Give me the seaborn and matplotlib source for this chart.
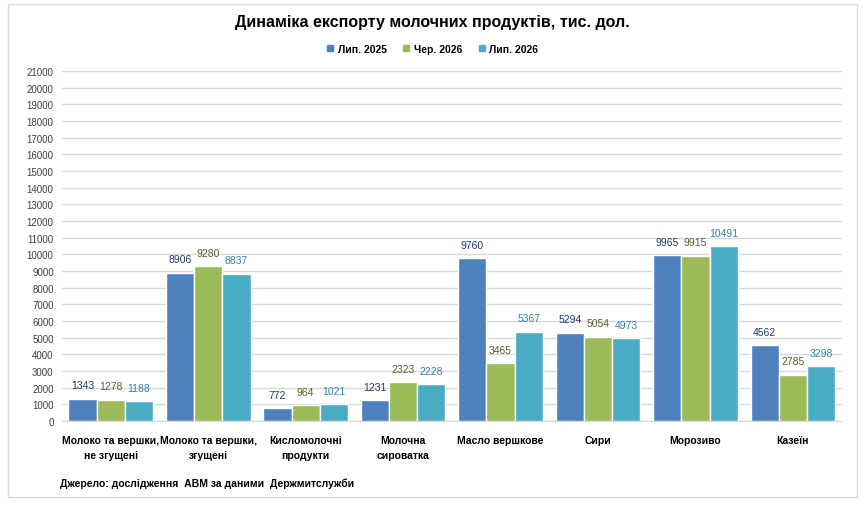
import pandas as pd
import matplotlib.pyplot as plt
import seaborn as sns
from matplotlib.patches import Rectangle

categories = ['Молоко та вершки,\nне згущені', 'Молоко та вершки,\nзгущені', 'Кисломолочні\nпродукти',
              'Молочна\nсироватка', 'Масло вершкове', 'Сири', 'Морозиво', 'Казеїн']
series = ['Лип. 2025', 'Чер. 2026', 'Лип. 2026']
jul_2025 = [1343, 8906, 772, 1231, 9760, 5294, 9965, 4562]
jun_2026 = [1278, 9280, 964, 2323, 3465, 5054, 9915, 2785]
jul_2026 = [1188, 8837, 1021, 2228, 5367, 4973, 10491, 3298]
y_ticks = list(range(0, 22000, 1000))

colors = ['#4F81BD', '#9BBB59', '#4BACC6']
label_colors = ['#1F3A6E', '#4F6228', '#31859C']

sns.set_style('white')
plt.rcParams['font.family'] = ['Liberation Sans', 'DejaVu Sans']
plt.rcParams['text.color'] = 'black'

df = pd.DataFrame({
    'cat': categories * 3,
    'period': [s for s in series for _ in categories],
    'value': jul_2025 + jun_2026 + jul_2026,
})

fig = plt.figure(figsize=(8.65, 5.06), dpi=100)
fig.patches.append(Rectangle((0.009, 0.016), 0.982, 0.974, transform=fig.transFigure,
                             fill=False, edgecolor='#D9D9D9', linewidth=1))
ax = fig.add_axes([0.0717, 0.166, 0.9013, 0.692])

sns.barplot(data=df, x='cat', y='value', hue='period', palette=colors, saturation=1, width=0.87,
            edgecolor='white', linewidth=1, ax=ax, legend=False, zorder=3)

for cont, lc in zip(ax.containers, label_colors):
    ax.bar_label(cont, fmt='%d', padding=6, fontsize=7.5, color=lc)

ax.set_ylim(0, 21000)
ax.set_xlim(-0.5, 7.5)
ax.set_yticks(y_ticks)
ax.yaxis.grid(True, color='#D9D9D9', linewidth=1, zorder=0)
ax.set_axisbelow(True)
for s in ['top', 'right', 'left']:
    ax.spines[s].set_visible(False)
ax.spines['bottom'].set_color('#D9D9D9')
ax.tick_params(axis='y', length=0, labelsize=7, colors='#404040', pad=6)
ax.tick_params(axis='x', length=0, pad=10)
ax.set_xticks(range(len(categories)))
ax.set_xticklabels(categories, fontsize=7.5, fontweight='bold', color='black', linespacing=1.6)
ax.set_xlabel('')
ax.set_ylabel('')

fig.text(0.5, 0.956, 'Динаміка експорту молочних продуктів, тис. дол.', ha='center', va='center',
         fontsize=11.5, fontweight='bold', color='black')

handles = [Rectangle((0, 0), 1, 1, color=c) for c in colors]
fig.legend(handles, series, loc='center', bbox_to_anchor=(0.5, 0.902), ncol=3, frameon=False,
           handlelength=0.6, handleheight=0.6, handletextpad=0.4, columnspacing=1.6,
           prop={'weight': 'bold', 'size': 7.5})

fig.text(0.069, 0.043, 'Джерело: дослідження  АВМ за даними  Держмитслужби', ha='left', va='center',
         fontsize=7.5, fontweight='bold', color='black')

plt.savefig('out.png', dpi=100)
